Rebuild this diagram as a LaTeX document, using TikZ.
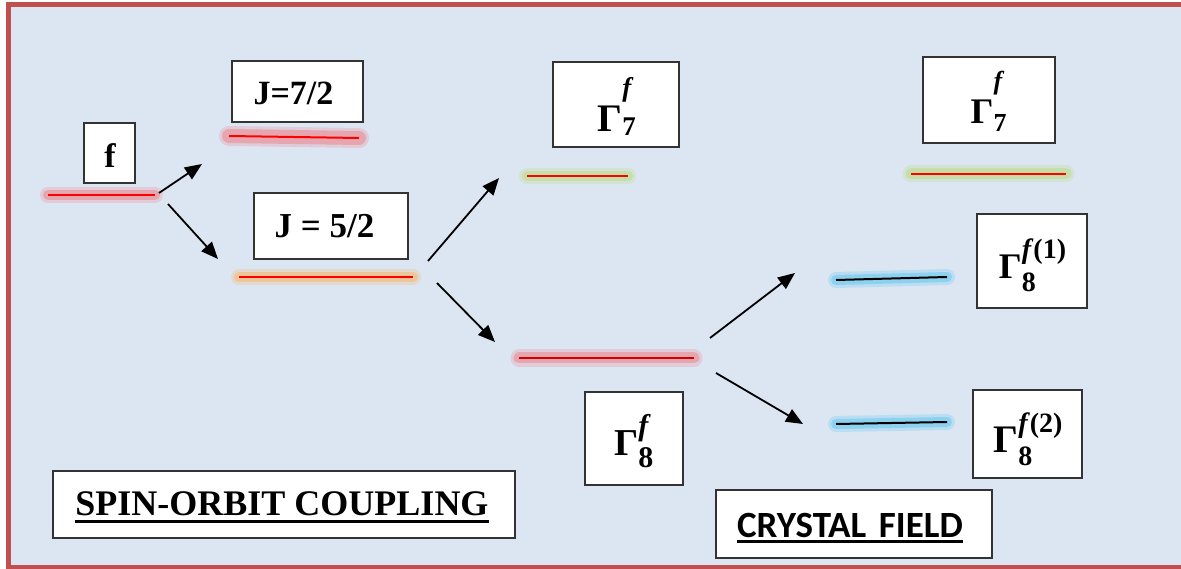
\documentclass[tikz,border=0pt]{standalone}
\usepackage{fontspec}
\setmainfont{Liberation Serif}
\newfontfamily\calibri{Carlito}
\usetikzlibrary{arrows.meta}
\definecolor{bgblue}{HTML}{DCE6F2}
\definecolor{framered}{HTML}{C0504D}
\definecolor{glowred}{HTML}{E89AA4}
\definecolor{gloworange}{HTML}{F2C08C}
\definecolor{glowgreen}{HTML}{C2DE9C}
\definecolor{glowcyan}{HTML}{7DCDF0}
\definecolor{darkred}{HTML}{D00000}
\newcommand\setfs[1]{\fontsize{#1}{#1}\selectfont}
% #1 big size, #2 small size, #3 sub, #4 sup, #5 sup raise, #6 sub drop
\newcommand\Gam[6]{{\setfs{#1}\bfseries Γ}{\setfs{#2}\bfseries\makebox[0pt][l]{\raisebox{-#6}{#3}}\raisebox{#5}{#4}}}
\newcommand\glowline[5]{%
  \draw[#1, line width=#5+6pt, line cap=round, opacity=0.35] (#2) -- (#3);
  \draw[#1, line width=#5, line cap=round, opacity=0.75] (#2) -- (#3);
  \draw[#4, line width=2pt] (#2) -- (#3);}
\tikzset{
  box/.style={draw=black!80, line width=1.2pt, fill=white, inner sep=0pt},
  lbl/.style={anchor=base, inner sep=0pt},
  arr/.style={line width=1.8pt, -{Triangle[length=17pt,width=14pt]}},
}
\begin{document}
\begin{tikzpicture}[x=1pt,y=-1pt]
\useasboundingbox (0,0) rectangle (1181,569);
\clip (0,0) rectangle (1181,569);
\fill[white] (0,0) rectangle (1181,569);
\draw[framered, line width=5pt, fill=bgblue] (8.5,4.2) rectangle (1200,567.5);

% level end points
\coordinate (fL) at (48,195);   \coordinate (fR) at (155,195);
\coordinate (s7L) at (229,136); \coordinate (s7R) at (359,138);
\coordinate (s5L) at (239,277); \coordinate (s5R) at (413,277);
\coordinate (m7L) at (527,176); \coordinate (m7R) at (628,176);
\coordinate (m8L) at (519,358); \coordinate (m8R) at (694,358);
\coordinate (r7L) at (911,174); \coordinate (r7R) at (1066,174);
\coordinate (r81L) at (836,280); \coordinate (r81R) at (947,277);
\coordinate (r82L) at (836,424); \coordinate (r82R) at (947,422);

% levels with glow
\glowline{glowred}{fL}{fR}{red}{10pt}
\glowline{glowred}{s7L}{s7R}{red}{14pt}
\glowline{gloworange}{s5L}{s5R}{red}{10pt}
\glowline{glowgreen}{m7L}{m7R}{red}{10pt}
\glowline{glowred}{m8L}{m8R}{darkred}{11pt}
\glowline{glowgreen}{r7L}{r7R}{red}{11pt}
\glowline{glowcyan}{r81L}{r81R}{black}{10pt}
\glowline{glowcyan}{r82L}{r82R}{black}{10pt}

% arrow end points
\coordinate (a1s) at (159,193); \coordinate (a1e) at (202,164);
\coordinate (a2s) at (168,204); \coordinate (a2e) at (218,259);
\coordinate (a3s) at (428,261); \coordinate (a3e) at (499,178);
\coordinate (a4s) at (437,283); \coordinate (a4e) at (495,342);
\coordinate (a5s) at (710,338); \coordinate (a5e) at (795,273);
\coordinate (a6s) at (716,373); \coordinate (a6e) at (803,424);
\draw[arr] (a1s) -- (a1e);
\draw[arr] (a2s) -- (a2e);
\draw[arr] (a3s) -- (a3e);
\draw[arr] (a4s) -- (a4e);
\draw[arr] (a5s) -- (a5e);
\draw[arr] (a6s) -- (a6e);

% boxes
\node[box, minimum width=51pt, minimum height=60pt] (fbox) at (109.5,153) {};
\node[box, minimum width=131pt, minimum height=61pt] (j7box) at (297.5,91.5) {};
\node[box, minimum width=154pt, minimum height=66pt] (j5box) at (331,226) {};
\node[box, minimum width=126pt, minimum height=85pt] (m7box) at (616,104.5) {};
\node[box, minimum width=98pt, minimum height=93pt] (m8box) at (634,438.5) {};
\node[box, minimum width=132pt, minimum height=86pt] (r7box) at (989,100) {};
\node[box, minimum width=110pt, minimum height=94pt] (r81box) at (1032,261) {};
\node[box, minimum width=109pt, minimum height=88pt] (r82box) at (1027.5,434) {};
\node[box, minimum width=462pt, minimum height=67pt] (sobox) at (284,504.5) {};
\node[box, minimum width=276pt, minimum height=68pt] (cfbox) at (854,524) {};

% labels
\node[lbl, font=\setfs{34}\bfseries] (ftxt) at (110,168) {f};
\node[lbl, font=\setfs{34}\bfseries] (j7txt) at (293.5,105) {J=7/2};
\node[lbl, font=\setfs{35}\bfseries] (j5txt) at (324.5,238) {J = 5/2};
\node[lbl] (m7txt) at (615.5,132) {\Gam{39}{27}{7}{\textit{f}}{35pt}{4pt}};
\node[lbl] (m8txt) at (632.5,455) {\Gam{38}{30}{8}{\textit{f}}{20pt}{12pt}};
\node[lbl] (r7txt) at (987.5,124) {\Gam{36}{26}{7}{\textit{f}}{34pt}{8pt}};
\node[lbl] (r81txt) at (1032.5,279) {\Gam{36}{28}{8}{\textit{f}(1)}{20pt}{13pt}};
\node[lbl] (r82txt) at (1028,452) {\Gam{39}{28}{8}{\textit{f}(2)}{20pt}{13pt}};
\node[lbl, font=\setfs{36}\bfseries] (sotxt) at (282,515) {SPIN-ORBIT COUPLING};
\node[lbl, font=\calibri\setfs{37}\bfseries] (cftxt) at (850,537) {CRYSTAL\hspace{0.12em} FIELD};
\draw[line width=3pt] ([yshift=-6pt]sotxt.base west) -- ([yshift=-6pt]sotxt.base east);
\draw[line width=2.5pt] ([yshift=-4.5pt]cftxt.base west) -- ([yshift=-4.5pt]cftxt.base east);
\end{tikzpicture}
\end{document}
